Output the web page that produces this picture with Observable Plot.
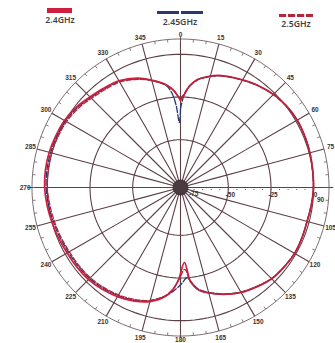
<!DOCTYPE html>
<html><head><meta charset="utf-8">
<script src="https://cdn.jsdelivr.net/npm/d3@7"></script>
<script src="https://cdn.jsdelivr.net/npm/@observablehq/plot@0.6"></script>
<style>
body{margin:0;background:#fff;width:335px;height:343px;overflow:hidden;font-family:"Noto Sans",sans-serif}
#legend{position:relative;height:30px;width:335px}
#legend svg{position:absolute;display:block}
.lb{position:absolute;font-size:8.7px;font-weight:600;color:#4a4042;transform:translateX(-50%);white-space:nowrap;line-height:10px}
#chart svg{display:block}
</style></head><body>
<div id="legend"></div><div id="chart"></div>
<script>
// ---- data ----
const seriesNames = ["2.4GHz", "2.45GHz", "2.5GHz"];
const seriesColors = ["#d01f3c", "#2a3872", "#b3263c"];

// angles (deg, clockwise from top) shared by 2.4GHz and 2.5GHz
const anglesMain = [0,2,5,9,14,20,30,37,45,52,60,68,75,82,90,97,105,112,120,128,135,142,150,158,165,170,174,177,181,184,188,195,202,210,218,225,232,240,248,255,262,270,278,285,292,300,308,315,322,330,337,342,347,352,356,358,360];
const gain24 = [-27,-24,-18.5,-14,-11,-8.2,-5.2,-3,-0.9,0.3,1.0,0.8,0.5,0.1,-0.1,-0.6,-1.2,-1.0,-0.8,-1.5,-2.4,-4.5,-7.0,-10.5,-14,-17,-23,-34,-24.5,-18.5,-13.5,-8.8,-6.2,-4.2,-2.8,-1.8,-1.5,-1.3,-0.6,0,0.8,1.6,1.8,1.6,1.1,0.5,-1.0,-3.0,-4.4,-5.8,-8.5,-11,-14,-17.2,-21,-24,-27];
const gain25 = [-26,-23.5,-18.3,-14,-11,-8.3,-5.3,-3.1,-1.0,0.2,0.9,0.7,0.5,0.1,-0.1,-0.6,-1.2,-1.0,-0.9,-1.6,-2.5,-4.6,-7.1,-10.6,-14.2,-17.2,-22.5,-30,-24,-18.7,-14,-9.6,-7.2,-5.4,-4.1,-3.3,-3.0,-2.8,-2.1,-1.5,-0.8,0.0,0.2,0.1,-0.3,-0.9,-2.3,-4.2,-5.5,-6.7,-9.3,-11.6,-14.4,-17.4,-21,-23.8,-26];

const angles245 = [0,2,5,9,14,20,30,37,45,52,60,68,75,82,90,97,105,112,120,128,135,142,150,158,165,170,173,176,179,183,188,195,202,210,218,225,232,240,248,255,262,270,278,285,292,300,308,315,322,330,337,342,347,352,355,357,359,360];
const gain245 = [-32,-24.5,-18.7,-14.2,-11.2,-8.4,-5.4,-3.2,-1.1,0.1,0.8,0.7,0.4,0,-0.2,-0.7,-1.3,-1.1,-0.9,-1.7,-2.6,-4.8,-7.3,-10.8,-14.4,-17.5,-21.5,-25,-22,-18,-13.8,-9.3,-6.8,-4.9,-3.6,-2.7,-2.4,-2.2,-1.5,-0.9,-0.1,0.7,0.9,0.8,0.4,-0.2,-1.6,-3.5,-4.9,-6.2,-8.9,-11.4,-14.4,-17.6,-23,-30,-40,-32];

const radialTicks = [-75, -50, -25, 0];
const angleTicks = d3.range(0, 360, 15);
const minorAngleTicks = d3.range(0, 360, 5);
const radialMinor = d3.range(-75, 1, 5);

// ---- radial geometry ----
const dbCenter = -78;   // value at the pole
const dbOuter = 9;      // value at the outer circle
const R = dbOuter - dbCenter;
const toLon = a => 180 - a;
const toLat = v => 90 - (v - dbCenter);

const rows = (angles, gains, name) => angles.map((a, i) => ({lon: toLon(a), lat: toLat(gains[i]), name}));
const d24 = rows(anglesMain, gain24, seriesNames[0]);
const d245 = rows(angles245, gain245, seriesNames[1]);
const d25 = rows(anglesMain, gain25, seriesNames[2]);

// ---- legend ----
const legend = document.getElementById("legend");
const legendLayout = [
  {sx: 47, sy: 8, w: 25, h: 5, dash: null, lx: 60, ly: 15},
  {sx: 157, sy: 10.5, w: 46, h: 3, dash: "22,2", lx: 180, ly: 17},
  {sx: 279, sy: 14, w: 34, h: 3, dash: "7.2,1.8", lx: 296, ly: 19}
];
seriesNames.forEach((name, i) => {
  const L = legendLayout[i];
  const ns = "http://www.w3.org/2000/svg";
  const s = document.createElementNS(ns, "svg");
  s.setAttribute("width", L.w); s.setAttribute("height", L.h);
  s.style.left = L.sx + "px"; s.style.top = L.sy + "px";
  const ln = document.createElementNS(ns, "line");
  ln.setAttribute("x1", 0); ln.setAttribute("x2", L.w);
  ln.setAttribute("y1", L.h / 2); ln.setAttribute("y2", L.h / 2);
  ln.setAttribute("stroke", seriesColors[i]); ln.setAttribute("stroke-width", L.h);
  if (L.dash) ln.setAttribute("stroke-dasharray", L.dash);
  s.appendChild(ln);
  legend.appendChild(s);
  const t = document.createElement("div");
  t.className = "lb"; t.textContent = name;
  t.style.left = L.lx + "px"; t.style.top = L.ly + "px";
  legend.appendChild(t);
});

// ---- chart ----
const gridColor = "#5e4047";
const circle = r => d3.geoCircle().center([0, 90]).radius(r)();
const labelStyle = {fontSize: 6.5, fill: "#3a3335", fontWeight: "bold"};
const labelRadius = a => (a === 0 || a === 180 ? R + 2.4 : R + 4);

const chart = Plot.plot({
  width: 335, height: 313,
  margin: 0,
  style: {fontFamily: "Liberation Sans, Arial, sans-serif", background: "#fff"},
  projection: {
    type: "azimuthal-equidistant", rotate: [0, -90], domain: circle(R), clip: false,
    insetLeft: 31.5, insetRight: 6.5, insetTop: 8.5, insetBottom: 7.5
  },
  marks: [
    Plot.geo(radialTicks.slice(1).map(v => circle(v - dbCenter)), {fill: "none", stroke: gridColor, strokeWidth: 1.1}),
    Plot.geo([circle(R)], {fill: "none", stroke: "#7d6d72", strokeWidth: 1}),
    Plot.link(angleTicks, {
      x1: a => toLon(a), y1: () => 90,
      x2: a => toLon(a), y2: a => (a % 90 === 0 ? 90 - (R + (a % 180 === 0 ? 1 : 2.5)) : 90 - R),
      stroke: gridColor, strokeWidth: 1.1
    }),
    Plot.link(minorAngleTicks, {
      x1: a => toLon(a), y1: () => 90 - R,
      x2: a => toLon(a), y2: () => 90 - (R - 1.8),
      stroke: "#6a5a5f", strokeWidth: 0.8
    }),
    Plot.dot(radialMinor, {x: () => 90, y: toLat, r: 0.6, fill: "#555", dy: 2}),
    Plot.dot([0], {x: () => 0, y: () => 90, r: 7.5, fill: "#4a3b40", stroke: "#2f2529", strokeWidth: 0.8}),
    // series
    Plot.line(d245, {x: "lon", y: "lat", stroke: seriesColors[1], strokeWidth: 1.3, strokeDasharray: "6,2", curve: "catmull-rom"}),
    Plot.line(d24, {x: "lon", y: "lat", stroke: seriesColors[0], strokeWidth: 1.7, curve: "catmull-rom"}),
    Plot.line(d25, {x: "lon", y: "lat", stroke: seriesColors[2], strokeWidth: 1.3, strokeDasharray: "5,2", curve: "catmull-rom"}),
    // labels
    Plot.text(angleTicks.filter(a => a !== 90), {
      x: a => toLon(a), y: a => 90 - labelRadius(a), text: a => String(a), ...labelStyle
    }),
    Plot.text([90], {x: a => toLon(a), y: () => 90 - (R - 5), text: a => String(a), dy: 12, ...labelStyle}),
    Plot.text(radialTicks.slice(1), {x: () => 90, y: toLat, text: v => String(v), dy: 7, dx: 2, ...labelStyle}),
    Plot.text(radialTicks.slice(0, 1), {x: () => 90, y: toLat, text: v => String(v), dy: 6, dx: 8, ...labelStyle})
  ]
});
document.getElementById("chart").appendChild(chart);
</script>
</body></html>
